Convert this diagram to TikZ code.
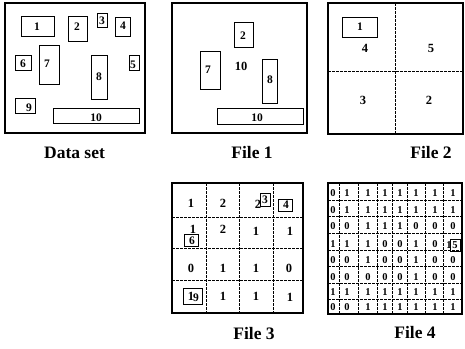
\documentclass[tikz,border=0pt]{standalone}
\usepackage{fontspec}
\setmainfont{Liberation Serif}

\tikzset{
  frame/.style={draw, line width=1.1pt, inner sep=0pt, outer sep=0pt},
  obj/.style={draw, line width=0.8pt, inner sep=0pt, outer sep=0pt},
  gridline/.style={line width=0.6pt, dash pattern=on 2.5pt off 1.5pt},
  num/.style={font=\fontsize{11.5}{11.5}\selectfont\bfseries, inner sep=0pt},
  cnt/.style={font=\fontsize{12.5}{12.5}\selectfont\bfseries, inner sep=0pt},
  bit/.style={font=\fontsize{10.5}{10.5}\selectfont\bfseries, inner sep=0pt},
  filelabel/.style={font=\fontsize{17.5}{17.5}\selectfont\bfseries, inner sep=0pt},
}

% rectangle node given by two corners: [style]{name}{x1}{y1}{x2}{y2}
\newcommand\rbox[6][obj]{%
  \node[#1, minimum width={(#5-#3)*1pt}, minimum height={(#6-#4)*1pt}]
    (#2) at ({(#3+#5)/2},{(#4+#6)/2}) {};}

\begin{document}
\begin{tikzpicture}[x=1pt, y=-1pt]
\useasboundingbox (0,0) rectangle (465,348);

% ---------------- Data set ----------------
\rbox[frame]{ds}{5}{3}{145}{133}
\rbox{d1}{21}{16}{54}{36}     \node[num] (t1) at (37,27) {1};
\rbox{d2}{68}{16}{87}{41}     \node[num] (t2) at (77,27) {2};
\rbox{d3}{97}{13}{107}{27}    \node[num] (t3) at (102,21) {3};
\rbox{d4}{115}{17}{130}{36}   \node[num] (t4) at (123,26) {4};
\rbox{d6}{15}{55}{31}{70}     \node[num] (t6) at (23,64) {6};
\rbox{d7}{39}{45}{59}{84}     \node[num] (t7) at (47,64) {7};
\rbox{d8}{91}{55}{107}{99}    \node[num] (t8) at (99,77) {8};
\rbox{d5}{129}{55}{139}{70}   \node[num] (t5) at (133,65) {5};
\rbox{d9}{15}{98}{35}{113}    \node[num] (t9) at (29,108) {9};
\rbox{d10}{53}{108}{139}{123} \node[num] (t10) at (96,118) {10};
\node[filelabel] (lds) at (74.5,153) {Data set};

% ---------------- File 1 ----------------
\rbox[frame]{fa}{172}{3}{307}{133}
\rbox{a2}{234}{22}{253}{47}    \node[num] (ta2) at (243,36) {2};
\rbox{a7}{200}{51}{220}{89}    \node[num] (ta7) at (208,70) {7};
\rbox{a8}{262}{59}{277}{103}   \node[num] (ta8) at (270,80) {8};
\rbox{a10}{217}{108}{303}{124} \node[num] (ta10) at (257,118) {10};
\node[cnt] (ca) at (241,66) {10};
\node[filelabel] (lfa) at (252,153) {File 1};

% ---------------- File 2 ----------------
\rbox[frame]{fb}{328}{3}{463}{134}
\draw[gridline] (395,3) -- (395,134);
\draw[gridline] (328,71) -- (463,71);
\rbox{b1}{342}{17}{377}{37} \node[num] (tb1) at (360,27) {1};
\node[cnt] (cb4) at (365,48) {4};
\node[cnt] (cb5) at (431,48) {5};
\node[cnt] (cb3) at (363,100) {3};
\node[cnt] (cb2) at (429,100) {2};
\node[filelabel] (lfb) at (431,153) {File 2};

% ---------------- File 3 ----------------
\rbox[frame]{fc}{172}{183}{303}{313}
\foreach \gx in {206,239,273} \draw[gridline] (\gx,183) -- (\gx,313);
\foreach \gy in {217,248,280} \draw[gridline] (172,\gy) -- (303,\gy);
% row 1
\node[cnt] (c11) at (191,203) {1};
\node[cnt] (c12) at (223,203) {2};
\node[cnt] (c13) at (258,204) {2};
\rbox{c3}{260}{193}{270}{206} \node[num] (tc3) at (265,200) {3};
\rbox{c4}{278}{199}{292}{211} \node[num] (tc4) at (286,205) {4};
% row 2
\node[cnt] (c21) at (193,229) {1};
\rbox{c6}{184}{234}{198}{246} \node[num] (tc6) at (192,241) {6};
\node[cnt] (c22) at (223,229) {2};
\node[cnt] (c23) at (256,231) {1};
\node[cnt] (c24) at (290,231) {1};
% row 3
\node[cnt] (c31) at (191,268) {0};
\node[cnt] (c32) at (223,268) {1};
\node[cnt] (c33) at (256,268) {1};
\node[cnt] (c34) at (289,268) {0};
% row 4
\rbox{c9}{183}{288}{202}{304}
\node[cnt] (c41) at (191,296) {1};
\node[num] (tc9) at (196,298) {9};
\node[cnt] (c42) at (223,296) {1};
\node[cnt] (c43) at (256,296) {1};
\node[cnt] (c44) at (290,297) {1};
\node[filelabel] (lfc) at (254,334) {File 3};

% ---------------- File 4 ----------------
\rbox[frame]{fd}{328}{183}{462}{314}
\foreach \gx in {339,358,377,392,407,425,443} \draw[gridline] (\gx,183) -- (\gx,314);
\foreach \gy in {200,216,233,250,266,283,299} \draw[gridline] (328,\gy) -- (462,\gy);
\foreach \r/\ry/\bits in {
    1/193/{0,1,1,1,1,1,1,1},
    2/210/{0,1,1,1,1,1,1,1},
    3/226/{0,0,1,1,1,0,0,0},
    4/244/{1,1,1,0,0,1,0},
    5/260/{0,0,1,0,0,1,0,0},
    6/277/{0,0,0,0,0,1,0,0},
    7/292/{1,1,1,1,1,1,1,1},
    8/307/{0,0,1,1,1,1,1,1}} {
  \foreach \b [count=\c] in \bits {
    \pgfmathsetmacro\bx{{333,347,368,385,400,416,435,453}[\c-1]}
    \node[bit] (e-\r-\c) at (\bx,\ry) {\b};
  }
}
\node[bit] (e-4-8) at (449,245) {1};
\rbox{e5}{450}{239}{460}{251} \node[bit] (te5) at (455,245) {5};
\node[filelabel] (lfd) at (415,333) {File 4};
\end{tikzpicture}
\end{document}
